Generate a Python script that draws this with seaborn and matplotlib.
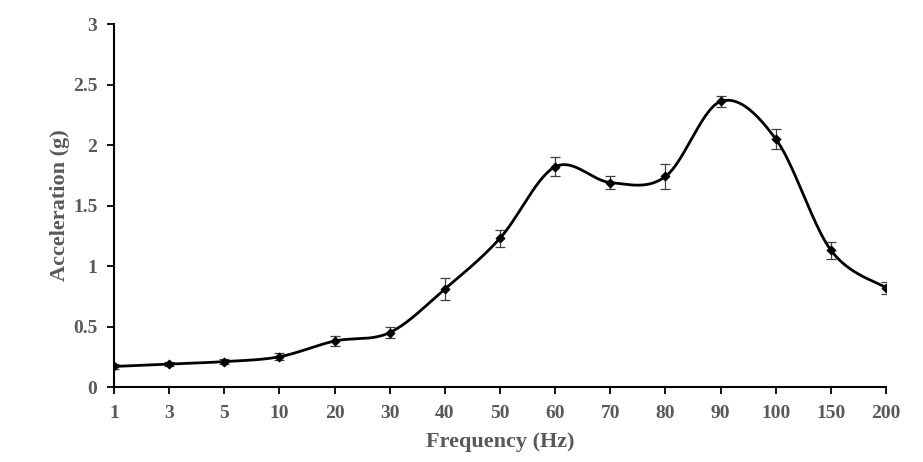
import numpy as np
import pandas as pd
import matplotlib
matplotlib.use("Agg")
import matplotlib.pyplot as plt
import seaborn as sns

# ==== data ====
freq_labels = ["1", "3", "5", "10", "20", "30", "40", "50", "60", "70", "80", "90", "100", "150", "200"]
accel = [0.17, 0.19, 0.21, 0.25, 0.38, 0.45, 0.81, 1.23, 1.82, 1.69, 1.74, 2.36, 2.05, 1.13, 0.82]
accel_err = [0.02, 0.02, 0.02, 0.03, 0.04, 0.045, 0.09, 0.07, 0.08, 0.05, 0.105, 0.045, 0.08, 0.07, 0.05]

df = pd.DataFrame({"pos": np.arange(len(freq_labels)), "acc": accel, "err": accel_err})


def smooth_curve(x, y, n=40):
    # Excel-style smoothed line: Catmull-Rom bezier through every point
    x = np.asarray(x, float)
    y = np.asarray(y, float)
    pts = np.column_stack([x, y])
    out = []
    for i in range(len(pts) - 1):
        p0 = pts[max(i - 1, 0)]
        p1 = pts[i]
        p2 = pts[i + 1]
        p3 = pts[min(i + 2, len(pts) - 1)]
        c1 = p1 + (p2 - p0) / 6.0
        c2 = p2 - (p3 - p1) / 6.0
        t = np.linspace(0, 1, n, endpoint=(i == len(pts) - 2))[:, None]
        seg = ((1 - t) ** 3) * p1 + 3 * ((1 - t) ** 2) * t * c1 + 3 * (1 - t) * t ** 2 * c2 + t ** 3 * p2
        out.append(seg)
    out = np.vstack(out)
    return out[:, 0], out[:, 1]


sns.set_style("ticks")
plt.rcParams["font.family"] = ["Liberation Serif", "DejaVu Serif"]
plt.rcParams["font.weight"] = "bold"

grey = "#595959"

fig = plt.figure(figsize=(9.23, 4.62), dpi=100)
ax = fig.add_axes([0.1235, 0.1623, 0.8365, 0.7857])

# error bars
ax.errorbar(df["pos"], df["acc"], yerr=df["err"], fmt="none",
            ecolor="#404040", elinewidth=0.9, capsize=3.5, capthick=0.9, zorder=2)

# smoothed line
sx, sy = smooth_curve(df["pos"], df["acc"])
curve = pd.DataFrame({"x": sx, "y": sy})
sns.lineplot(data=curve, x="x", y="y", ax=ax, color="black", linewidth=2.0,
             sort=False, estimator=None, zorder=3)

# markers
sns.scatterplot(data=df, x="pos", y="acc", ax=ax, marker="D", s=22,
                color="black", edgecolor="black", linewidth=0.5, zorder=4)

ax.set_xlim(0, len(freq_labels) - 1)
ax.set_ylim(0, 3)
ax.set_xticks(df["pos"])
ax.set_xticklabels(freq_labels)
ax.set_yticks(np.arange(0, 3.01, 0.5))
ax.set_yticklabels(["0", "0.5", "1", "1.5", "2", "2.5", "3"])

ax.set_xlabel("Frequency (Hz)", fontsize=16, fontweight="bold", color=grey, labelpad=7)
ax.set_ylabel("Acceleration (g)", fontsize=16, fontweight="bold", color=grey, labelpad=2)

ax.tick_params(axis="both", which="major", labelsize=14, labelcolor=grey,
               color="black", width=1.3, length=5, direction="out")
ax.tick_params(axis="x", pad=8)
ax.tick_params(axis="y", pad=7)
for lab in ax.get_xticklabels() + ax.get_yticklabels():
    lab.set_fontweight("bold")

sns.despine(ax=ax)
for side in ["left", "bottom"]:
    ax.spines[side].set_linewidth(1.5)
    ax.spines[side].set_color("black")
    ax.spines[side].set_zorder(5)

fig.savefig("out.png", dpi=100)
plt.close(fig)
